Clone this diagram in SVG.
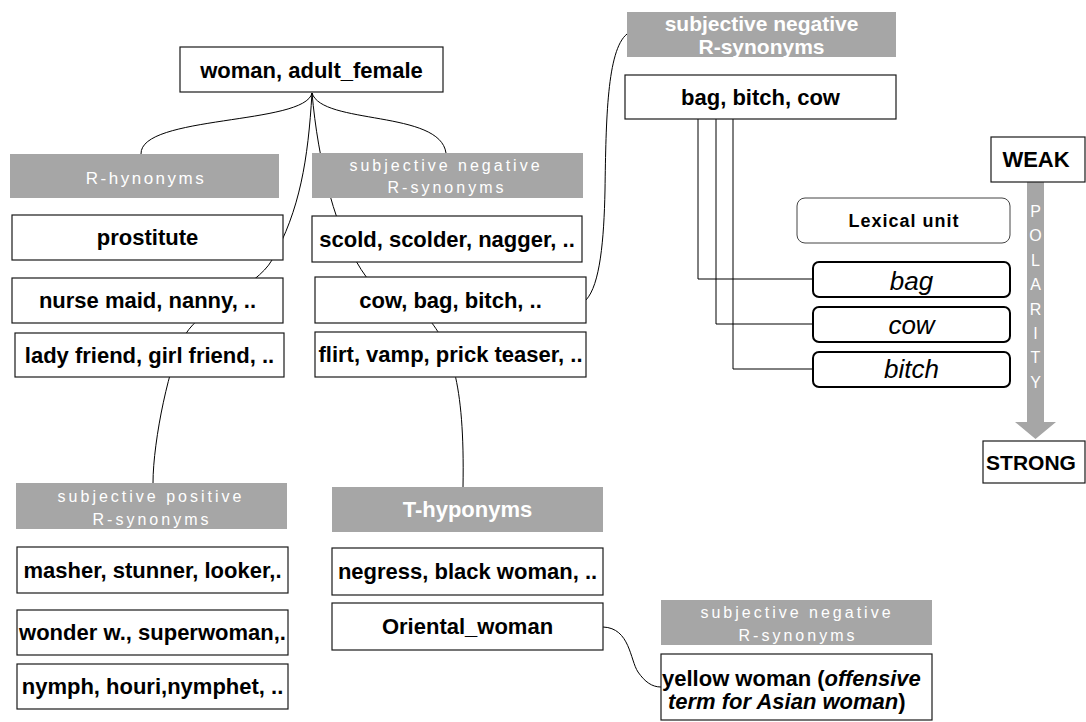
<svg xmlns="http://www.w3.org/2000/svg" width="1086" height="722" viewBox="0 0 1086 722">
<style>
.box{fill:#fff;stroke:#1a1a1a;stroke-width:1.2}
.hdr{fill:#a6a6a6}
.t{font-family:"Liberation Sans",Arial,sans-serif;font-weight:bold;font-size:22px;fill:#000;text-anchor:middle}
.ht{font-family:"Liberation Sans",Arial,sans-serif;font-size:16px;fill:#fff;letter-spacing:3px;text-anchor:middle}
.hb{font-family:"Liberation Sans",Arial,sans-serif;font-weight:bold;font-size:22px;fill:#fff;text-anchor:middle}
.c{fill:none;stroke:#000;stroke-width:1}
.lu{fill:#fff;stroke:#000;stroke-width:2}
.it{font-family:"Liberation Sans",Arial,sans-serif;font-style:italic;font-size:26px;fill:#000;text-anchor:middle}
.pl{font-family:"Liberation Sans",Arial,sans-serif;font-size:16px;fill:#fff;text-anchor:middle}
</style>
<rect width="1086" height="722" fill="#fff"/>
<g id="connectors">
<path class="c" d="M312,93 C305,125 140,115 141,154"/>
<path class="c" d="M312,93 C322,125 440,110 446,153"/>
<path class="c" d="M312,93 C308,160 300,210 272,260 C256,288 203,305 185,335 C170,360 153,440 153,483"/>
<path class="c" d="M312,93 C318,160 335,235 367,278"/>
<path class="c" d="M428,318 C450,345 465,380 463,487"/>
<path class="c" d="M586,300 C600,285 604,240 605,190 C606,120 607,50 627,34"/>
<path class="c" d="M603,627 C630,628 630,660 638,672 C645,682 652,687 661,687"/>
<path class="c" d="M698,119 V279 H813 M716,119 V324 H813 M733,119 V369 H813"/>
</g>
<g id="woman"><rect class="box" x="180" y="47" width="263" height="45"/><text class="t" x="311.5" y="78">woman, adult_female</text></g>
<g id="r-hynonyms"><rect class="hdr" x="10" y="154" width="269" height="44"/><text class="ht" x="146" y="184" style="font-size:17px;letter-spacing:2.5px">R-hynonyms</text></g>
<g id="prostitute"><rect class="box" x="12" y="215" width="271" height="45"/><text class="t" x="147.5" y="245">prostitute</text></g>
<g id="nurse"><rect class="box" x="12" y="278" width="271" height="45"/><text class="t" x="147.5" y="308">nurse maid, nanny, ..</text></g>
<g id="lady"><rect class="box" x="15" y="333" width="269" height="44"/><text class="t" x="149.5" y="363">lady friend, girl friend, ..</text></g>
<g id="subj-pos"><rect class="hdr" x="16" y="483" width="271" height="46"/><text class="ht" x="151" y="502">subjective positive</text><text class="ht" x="152" y="525">R-synonyms</text></g>
<g id="masher"><rect class="box" x="17" y="547" width="271" height="46"/><text class="t" x="152.5" y="578">masher, stunner, looker,.</text></g>
<g id="wonder"><rect class="box" x="17" y="610" width="271" height="45"/><text class="t" x="152.5" y="640">wonder w., superwoman,.</text></g>
<g id="nymph"><rect class="box" x="17" y="664" width="271" height="45"/><text class="t" x="152.5" y="694">nymph, houri,nymphet, ..</text></g>
<g id="subj-neg-mid"><rect class="hdr" x="312" y="153" width="271" height="45"/><text class="ht" x="446" y="171">subjective negative</text><text class="ht" x="447" y="193">R-synonyms</text></g>
<g id="scold"><rect class="box" x="312" y="216" width="270" height="46"/><text class="t" x="447" y="247">scold, scolder, nagger, ..</text></g>
<g id="cow-bag"><rect class="box" x="315" y="277" width="271" height="46"/><text class="t" x="450.5" y="308">cow, bag, bitch, ..</text></g>
<g id="flirt"><rect class="box" x="315" y="332" width="271" height="45"/><text class="t" x="450.5" y="362">flirt, vamp, prick teaser, ..</text></g>
<g id="t-hyponyms"><rect class="hdr" x="332" y="487" width="271" height="45"/><text class="hb" x="467.5" y="517">T-hyponyms</text></g>
<g id="negress"><rect class="box" x="332" y="548" width="271" height="47"/><text class="t" x="467.5" y="579">negress, black woman, ..</text></g>
<g id="oriental"><rect class="box" x="332" y="603" width="271" height="47"/><text class="t" x="467.5" y="634">Oriental_woman</text></g>
<g id="subj-neg-top"><rect class="hdr" x="627" y="12" width="269" height="45"/><text class="hb" x="761.5" y="31" style="font-size:21px">subjective negative</text><text class="hb" x="761.5" y="54" style="font-size:21px">R-synonyms</text></g>
<g id="bag-bitch-cow"><rect class="box" x="625" y="75" width="271" height="44"/><text class="t" x="760.5" y="105">bag, bitch, cow</text></g>
<g id="lexical-unit"><rect x="797" y="198" width="213" height="45" rx="8" fill="#fff" stroke="#444" stroke-width="1"/><text class="t" x="904" y="227" style="font-size:18px;letter-spacing:1px">Lexical unit</text></g>
<g id="lu-bag"><rect class="lu" x="813" y="262" width="197" height="35" rx="6"/><text class="it" x="911.5" y="290">bag</text></g>
<g id="lu-cow"><rect class="lu" x="813" y="307" width="197" height="35" rx="6"/><text class="it" x="911.5" y="334">cow</text></g>
<g id="lu-bitch"><rect class="lu" x="813" y="352" width="197" height="35" rx="6"/><text class="it" x="911.5" y="378">bitch</text></g>
<g id="polarity">
<polygon points="1027,182 1044,182 1044,422 1056,422 1035.5,439 1015,422 1027,422" fill="#a6a6a6"/>
<text class="pl" x="1035.5" y="217">P</text><text class="pl" x="1035.5" y="241">O</text><text class="pl" x="1035.5" y="266">L</text><text class="pl" x="1035.5" y="290">A</text><text class="pl" x="1035.5" y="315">R</text><text class="pl" x="1035.5" y="339">I</text><text class="pl" x="1035.5" y="363">T</text><text class="pl" x="1035.5" y="388">Y</text>
</g>
<g id="weak"><rect class="box" x="991" y="137" width="94" height="45"/><text class="t" x="1036" y="167">WEAK</text></g>
<g id="strong"><rect class="box" x="983" y="441" width="102" height="42"/><text class="t" x="1031" y="470" style="font-size:21px">STRONG</text></g>
<g id="subj-neg-bottom"><rect class="hdr" x="661" y="600" width="271" height="45"/><text class="ht" x="797" y="618">subjective negative</text><text class="ht" x="798" y="641">R-synonyms</text></g>
<g id="yellow"><rect class="box" x="661" y="654" width="271" height="66"/><text class="t" x="662" y="686" style="text-anchor:start">yellow woman (<tspan font-style="italic">offensive</tspan></text><text class="t" x="668" y="709" style="text-anchor:start"><tspan font-style="italic">term for Asian woman</tspan>)</text></g>
</svg>
